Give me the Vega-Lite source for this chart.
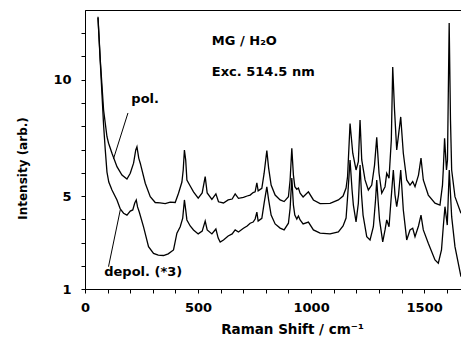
{
"$schema": "https://vega.github.io/schema/vega-lite/v6.json",
"width": 376, "height": 279,
"autosize": {"type": "none"},
"padding": {"left": 85, "top": 10, "right": 0, "bottom": 56},
"background": "white",
"config": {
 "view": {"stroke": "black", "strokeWidth": 1},
 "font": "DejaVu Sans",
 "axis": {"labelOverlap": false, "grid": false, "domainColor": "black", "tickColor": "black", "tickSize": 4, "tickWidth": 1, "labelColor": "black", "labelFont": "DejaVu Sans", "labelFontWeight": "bold", "labelFontSize": 13, "labelFlush": false, "titleFont": "DejaVu Sans", "titleFontWeight": "bold", "titleColor": "black"},
 "axisX": {"labelPadding": 8, "titleFontSize": 13.5, "titleX": 207, "titleY": 44, "titleBaseline": "alphabetic", "titleAlign": "center"},
 "axisY": {"labelPadding": 10, "titleFontSize": 12, "titleX": -63, "titleY": 158, "titleAngle": 270, "titleBaseline": "middle", "titleAlign": "center"}
},
"datasets": {
"spectra": [
{"series":"pol","shift":57.4,"intensity":12.71},{"series":"pol","shift":67.6,"intensity":10.85},{"series":"pol","shift":82.2,"intensity":8.70},{"series":"pol","shift":97.2,"intensity":7.55},{"series":"pol","shift":104.3,"intensity":7.27},{"series":"pol","shift":119.3,"intensity":6.84},{"series":"pol","shift":141.4,"intensity":6.26},{"series":"pol","shift":163.5,"intensity":5.90},{"series":"pol","shift":185.6,"intensity":5.73},{"series":"pol","shift":200.2,"intensity":5.98},{"series":"pol","shift":214.8,"intensity":6.41},{"series":"pol","shift":224.5,"intensity":6.98},{"series":"pol","shift":229.8,"intensity":7.12},{"series":"pol","shift":237.7,"intensity":6.63},{"series":"pol","shift":244.4,"intensity":6.41},{"series":"pol","shift":266.5,"intensity":5.55},{"series":"pol","shift":288.6,"intensity":4.97},{"series":"pol","shift":310.6,"intensity":4.72},{"series":"pol","shift":332.0,"intensity":4.70},{"series":"pol","shift":354.8,"intensity":4.67},{"series":"pol","shift":376.9,"intensity":4.74},{"series":"pol","shift":399.0,"intensity":4.72},{"series":"pol","shift":413.6,"intensity":5.12},{"series":"pol","shift":428.6,"intensity":5.60},{"series":"pol","shift":434.4,"intensity":6.12},{"series":"pol","shift":439.7,"intensity":6.98},{"series":"pol","shift":445.4,"intensity":6.55},{"series":"pol","shift":450.7,"intensity":5.69},{"series":"pol","shift":465.3,"intensity":5.43},{"series":"pol","shift":479.9,"intensity":5.18},{"series":"pol","shift":500.7,"intensity":4.91},{"series":"pol","shift":518.3,"intensity":5.13},{"series":"pol","shift":531.6,"intensity":5.83},{"series":"pol","shift":540.4,"intensity":5.13},{"series":"pol","shift":561.2,"intensity":4.85},{"series":"pol","shift":578.9,"intensity":5.09},{"series":"pol","shift":590.4,"intensity":4.75},{"series":"pol","shift":612.5,"intensity":4.70},{"series":"pol","shift":633.2,"intensity":4.83},{"series":"pol","shift":650.9,"intensity":4.87},{"series":"pol","shift":664.2,"intensity":5.09},{"series":"pol","shift":678.7,"intensity":4.90},{"series":"pol","shift":700.8,"intensity":4.94},{"series":"pol","shift":717.2,"intensity":5.00},{"series":"pol","shift":730.4,"intensity":5.04},{"series":"pol","shift":743.7,"intensity":5.15},{"series":"pol","shift":752.5,"intensity":5.18},{"series":"pol","shift":760.1,"intensity":5.57},{"series":"pol","shift":765.8,"intensity":5.22},{"series":"pol","shift":782.1,"intensity":5.33},{"series":"pol","shift":792.3,"intensity":5.98},{"series":"pol","shift":804.2,"intensity":6.95},{"series":"pol","shift":812.2,"intensity":6.20},{"series":"pol","shift":823.2,"intensity":5.47},{"series":"pol","shift":840.9,"intensity":5.04},{"series":"pol","shift":863.0,"intensity":4.83},{"series":"pol","shift":880.7,"intensity":4.76},{"series":"pol","shift":899.7,"intensity":4.97},{"series":"pol","shift":907.2,"intensity":5.69},{"series":"pol","shift":914.7,"intensity":7.05},{"series":"pol","shift":921.8,"intensity":5.90},{"series":"pol","shift":928.0,"intensity":5.40},{"series":"pol","shift":936.8,"intensity":5.29},{"series":"pol","shift":943.9,"intensity":5.34},{"series":"pol","shift":951.4,"intensity":5.12},{"series":"pol","shift":964.6,"intensity":4.96},{"series":"pol","shift":988.1,"intensity":5.18},{"series":"pol","shift":1010.2,"intensity":4.83},{"series":"pol","shift":1039.8,"intensity":4.67},{"series":"pol","shift":1084.0,"intensity":4.68},{"series":"pol","shift":1120.6,"intensity":4.83},{"series":"pol","shift":1141.4,"intensity":5.00},{"series":"pol","shift":1154.7,"intensity":5.34},{"series":"pol","shift":1161.3,"intensity":5.83},{"series":"pol","shift":1172.3,"intensity":8.12},{"series":"pol","shift":1184.3,"intensity":6.84},{"series":"pol","shift":1198.8,"intensity":6.12},{"series":"pol","shift":1209.0,"intensity":6.48},{"series":"pol","shift":1216.5,"intensity":8.27},{"series":"pol","shift":1224.0,"intensity":6.55},{"series":"pol","shift":1238.6,"intensity":5.69},{"series":"pol","shift":1253.2,"intensity":5.26},{"series":"pol","shift":1268.2,"intensity":5.47},{"series":"pol","shift":1280.6,"intensity":6.33},{"series":"pol","shift":1290.3,"intensity":7.52},{"series":"pol","shift":1300.5,"intensity":5.98},{"series":"pol","shift":1312.4,"intensity":5.12},{"series":"pol","shift":1327.0,"intensity":5.40},{"series":"pol","shift":1334.5,"intensity":5.98},{"series":"pol","shift":1344.7,"intensity":5.77},{"series":"pol","shift":1354.8,"intensity":7.41},{"series":"pol","shift":1361.0,"intensity":10.55},{"series":"pol","shift":1369.0,"intensity":8.70},{"series":"pol","shift":1378.7,"intensity":6.98},{"series":"pol","shift":1386.6,"intensity":7.62},{"series":"pol","shift":1396.4,"intensity":8.40},{"series":"pol","shift":1407.9,"intensity":6.84},{"series":"pol","shift":1422.9,"intensity":5.69},{"series":"pol","shift":1437.5,"intensity":5.47},{"series":"pol","shift":1449.4,"intensity":5.62},{"series":"pol","shift":1459.6,"intensity":5.40},{"series":"pol","shift":1475.0,"intensity":5.90},{"series":"pol","shift":1486.1,"intensity":6.63},{"series":"pol","shift":1496.3,"intensity":5.69},{"series":"pol","shift":1518.3,"intensity":5.04},{"series":"pol","shift":1548.0,"intensity":4.69},{"series":"pol","shift":1570.0,"intensity":4.61},{"series":"pol","shift":1581.1,"intensity":5.47},{"series":"pol","shift":1584.6,"intensity":6.12},{"series":"pol","shift":1590.4,"intensity":7.48},{"series":"pol","shift":1598.8,"intensity":6.12},{"series":"pol","shift":1603.2,"intensity":6.55},{"series":"pol","shift":1610.7,"intensity":12.44},{"series":"pol","shift":1616.5,"intensity":8.27},{"series":"pol","shift":1621.7,"intensity":6.12},{"series":"pol","shift":1636.3,"intensity":4.97},{"series":"pol","shift":1662.8,"intensity":4.26},
{"series":"depol","shift":57.4,"intensity":12.66},{"series":"depol","shift":67.6,"intensity":10.76},{"series":"depol","shift":82.2,"intensity":8.05},{"series":"depol","shift":89.7,"intensity":6.98},{"series":"depol","shift":97.2,"intensity":6.03},{"series":"depol","shift":105.2,"intensity":5.60},{"series":"depol","shift":119.3,"intensity":5.26},{"series":"depol","shift":141.4,"intensity":4.83},{"series":"depol","shift":156.0,"intensity":4.44},{"series":"depol","shift":170.6,"intensity":4.26},{"series":"depol","shift":185.6,"intensity":4.18},{"series":"depol","shift":200.2,"intensity":4.35},{"series":"depol","shift":211.2,"intensity":4.40},{"series":"depol","shift":220.1,"intensity":4.70},{"series":"depol","shift":226.7,"intensity":4.83},{"series":"depol","shift":232.4,"intensity":4.53},{"series":"depol","shift":240.0,"intensity":4.31},{"series":"depol","shift":258.9,"intensity":3.67},{"series":"depol","shift":281.0,"intensity":2.82},{"series":"depol","shift":303.1,"intensity":2.53},{"series":"depol","shift":323.9,"intensity":2.46},{"series":"depol","shift":347.3,"intensity":2.44},{"series":"depol","shift":368.1,"intensity":2.51},{"series":"depol","shift":391.5,"intensity":2.68},{"series":"depol","shift":406.5,"intensity":3.40},{"series":"depol","shift":421.1,"intensity":3.68},{"series":"depol","shift":432.2,"intensity":4.05},{"series":"depol","shift":439.7,"intensity":4.83},{"series":"depol","shift":445.4,"intensity":4.40},{"series":"depol","shift":450.7,"intensity":3.97},{"series":"depol","shift":465.3,"intensity":3.71},{"series":"depol","shift":479.9,"intensity":3.54},{"series":"depol","shift":500.7,"intensity":3.37},{"series":"depol","shift":518.3,"intensity":3.49},{"series":"depol","shift":531.6,"intensity":3.92},{"series":"depol","shift":540.4,"intensity":3.54},{"series":"depol","shift":561.2,"intensity":3.37},{"series":"depol","shift":578.9,"intensity":3.58},{"series":"depol","shift":589.1,"intensity":3.19},{"series":"depol","shift":597.9,"intensity":3.02},{"series":"depol","shift":612.5,"intensity":3.11},{"series":"depol","shift":633.2,"intensity":3.28},{"series":"depol","shift":650.9,"intensity":3.37},{"series":"depol","shift":664.2,"intensity":3.54},{"series":"depol","shift":678.7,"intensity":3.45},{"series":"depol","shift":700.8,"intensity":3.61},{"series":"depol","shift":717.2,"intensity":3.71},{"series":"depol","shift":730.4,"intensity":3.83},{"series":"depol","shift":743.7,"intensity":3.88},{"series":"depol","shift":752.5,"intensity":4.01},{"series":"depol","shift":760.1,"intensity":4.31},{"series":"depol","shift":765.8,"intensity":3.92},{"series":"depol","shift":782.1,"intensity":4.04},{"series":"depol","shift":792.3,"intensity":4.69},{"series":"depol","shift":804.2,"intensity":5.39},{"series":"depol","shift":812.2,"intensity":4.83},{"series":"depol","shift":823.2,"intensity":4.18},{"series":"depol","shift":840.9,"intensity":3.80},{"series":"depol","shift":863.0,"intensity":3.62},{"series":"depol","shift":880.7,"intensity":3.54},{"series":"depol","shift":899.7,"intensity":3.83},{"series":"depol","shift":907.2,"intensity":4.47},{"series":"depol","shift":914.7,"intensity":5.77},{"series":"depol","shift":921.8,"intensity":4.61},{"series":"depol","shift":928.0,"intensity":4.18},{"series":"depol","shift":936.8,"intensity":4.01},{"series":"depol","shift":943.9,"intensity":4.14},{"series":"depol","shift":951.4,"intensity":3.97},{"series":"depol","shift":964.6,"intensity":3.80},{"series":"depol","shift":988.1,"intensity":3.88},{"series":"depol","shift":1010.2,"intensity":3.54},{"series":"depol","shift":1039.8,"intensity":3.40},{"series":"depol","shift":1084.0,"intensity":3.37},{"series":"depol","shift":1120.6,"intensity":3.46},{"series":"depol","shift":1141.4,"intensity":3.71},{"series":"depol","shift":1154.7,"intensity":4.05},{"series":"depol","shift":1163.6,"intensity":5.26},{"series":"depol","shift":1172.3,"intensity":6.55},{"series":"depol","shift":1181.2,"intensity":5.26},{"series":"depol","shift":1187.0,"intensity":4.61},{"series":"depol","shift":1198.8,"intensity":3.89},{"series":"depol","shift":1209.0,"intensity":4.69},{"series":"depol","shift":1216.5,"intensity":6.33},{"series":"depol","shift":1223.1,"intensity":5.04},{"series":"depol","shift":1229.8,"intensity":4.18},{"series":"depol","shift":1246.1,"intensity":3.25},{"series":"depol","shift":1260.7,"intensity":3.11},{"series":"depol","shift":1275.4,"intensity":3.68},{"series":"depol","shift":1285.0,"intensity":4.83},{"series":"depol","shift":1290.3,"intensity":5.69},{"series":"depol","shift":1296.1,"intensity":4.83},{"series":"depol","shift":1302.7,"intensity":3.97},{"series":"depol","shift":1316.8,"intensity":3.03},{"series":"depol","shift":1327.0,"intensity":3.54},{"series":"depol","shift":1334.5,"intensity":3.97},{"series":"depol","shift":1344.7,"intensity":3.68},{"series":"depol","shift":1353.5,"intensity":4.83},{"series":"depol","shift":1363.7,"intensity":6.12},{"series":"depol","shift":1371.2,"intensity":5.04},{"series":"depol","shift":1378.7,"intensity":4.54},{"series":"depol","shift":1386.6,"intensity":5.04},{"series":"depol","shift":1396.4,"intensity":6.12},{"series":"depol","shift":1407.9,"intensity":4.40},{"series":"depol","shift":1422.9,"intensity":3.11},{"series":"depol","shift":1437.5,"intensity":3.54},{"series":"depol","shift":1449.4,"intensity":3.61},{"series":"depol","shift":1459.6,"intensity":3.25},{"series":"depol","shift":1475.0,"intensity":3.71},{"series":"depol","shift":1486.1,"intensity":4.18},{"series":"depol","shift":1496.3,"intensity":3.54},{"series":"depol","shift":1518.3,"intensity":2.97},{"series":"depol","shift":1548.0,"intensity":2.25},{"series":"depol","shift":1562.6,"intensity":2.11},{"series":"depol","shift":1576.7,"intensity":2.68},{"series":"depol","shift":1584.6,"intensity":3.68},{"series":"depol","shift":1592.1,"intensity":4.54},{"series":"depol","shift":1602.3,"intensity":3.75},{"series":"depol","shift":1611.1,"intensity":6.12},{"series":"depol","shift":1621.7,"intensity":4.11},{"series":"depol","shift":1636.3,"intensity":2.82},{"series":"depol","shift":1662.8,"intensity":1.53}
],
"leaders": [
{"shift":190,"intensity":8.57,"shift2":126,"intensity2":6.6},
{"shift":104,"intensity":1.96,"shift2":156,"intensity2":4.40}
],
"labels": [
{"shift":561,"intensity":11.67,"label":"MG / H₂O"},
{"shift":561,"intensity":10.33,"label":"Exc. 514.5 nm"},
{"shift":205,"intensity":9.17,"label":"pol."},
{"shift":85,"intensity":1.73,"label":"depol. (*3)"}
]
},
"encoding": {
"x": {"field": "shift", "type": "quantitative", "scale": {"domain": [0, 1663], "nice": false},
 "axis": {"title": "Raman Shift / cm⁻¹", "values": [0,100,200,300,400,500,600,700,800,900,1000,1100,1200,1300,1400,1500,1600],
  "labelExpr": "datum.value % 500 == 0 ? datum.label : ''", "format": "d", "labelOverlap": false}},
"y": {"field": "intensity", "type": "quantitative", "scale": {"domain": [1, 13], "nice": false, "zero": false},
 "axis": {"title": "Intensity (arb.)", "values": [1,2,3,4,5,6,7,8,9,10,11,12],
  "labelExpr": "datum.value == 1 || datum.value == 5 || datum.value == 10 ? datum.label : ''", "labelOverlap": false}}
},
"layer": [
{
"data": {"name": "spectra"},
"mark": {"type": "line", "color": "black", "strokeWidth": 1.3, "clip": true},
"encoding": {"detail": {"field": "series"}}
},
{
"data": {"name": "leaders"},
"mark": {"type": "rule", "color": "black", "strokeWidth": 1},
"encoding": {"x2": {"field": "shift2"}, "y2": {"field": "intensity2"}}
},
{
"data": {"name": "labels"},
"mark": {"type": "text", "align": "left", "baseline": "middle", "font": "DejaVu Sans", "fontWeight": "bold", "fontSize": 13, "color": "black"},
"encoding": {"text": {"field": "label"}}
}
]
}
